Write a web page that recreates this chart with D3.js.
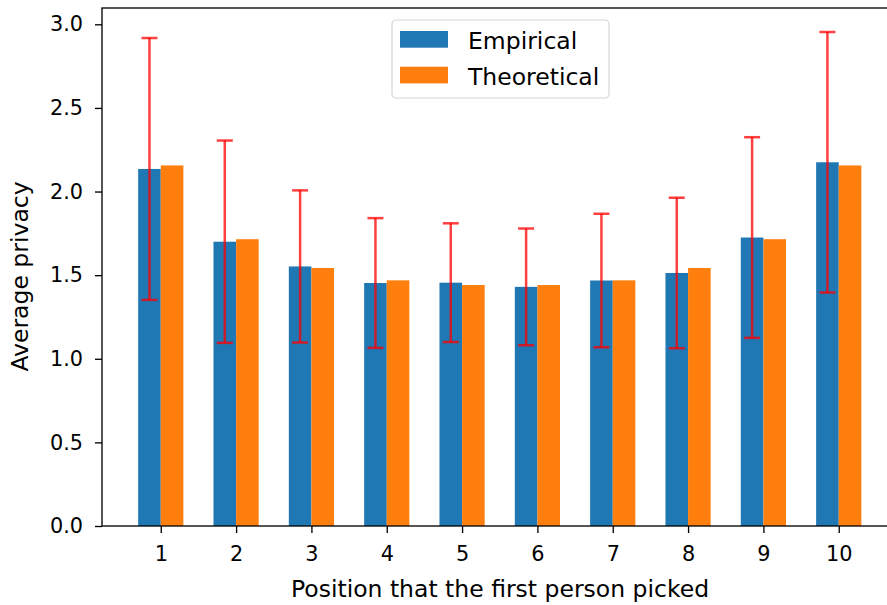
<!DOCTYPE html>
<html>
<head>
<meta charset="utf-8">
<script src="https://cdn.jsdelivr.net/npm/d3@7"></script>
<style>
  html, body { margin: 0; padding: 0; background: #fff; }
  svg { display: block; font-family: "DejaVu Sans", sans-serif; }
</style>
</head>
<body>
<svg id="chart" width="887" height="605"></svg>
<script>
// Positions of the first person picked
const positions = [1, 2, 3, 4, 5, 6, 7, 8, 9, 10];
// Measured average privacy and its spread (error bar half-length)
const empirical = [2.135, 1.700, 1.552, 1.453, 1.455, 1.430, 1.468, 1.513, 1.725, 2.175];
const empiricalErr = [0.783, 0.605, 0.455, 0.388, 0.355, 0.349, 0.399, 0.450, 0.600, 0.779];
// Model prediction
const theoretical = [2.156, 1.715, 1.543, 1.469, 1.441, 1.441, 1.469, 1.543, 1.715, 2.156];
const yTicks = [0.0, 0.5, 1.0, 1.5, 2.0, 2.5, 3.0];
const seriesNames = ["Empirical", "Theoretical"];
const colors = ["#1f77b4", "#ff7f0e"];

const barWidth = 0.3;
const plotLeft = 102, plotTop = 8, plotBottom = 526;
const unit = 75.33;
const xDomain = [0.22, 10.78];
const plotRight = plotLeft + (xDomain[1] - xDomain[0]) * unit;

const svg = d3.select("#chart");
const x = d3.scaleLinear().domain(xDomain).range([plotLeft, plotRight]);
const y = d3.scaleLinear().domain([0, 3.0975]).range([plotBottom, plotTop]);

// Bars
const g = svg.append("g");
g.selectAll("rect.emp").data(positions).join("rect")
  .attr("class", "emp")
  .attr("x", (d) => x(d - barWidth))
  .attr("width", x(barWidth) - x(0))
  .attr("y", (d, i) => y(empirical[i]))
  .attr("height", (d, i) => y(0) - y(empirical[i]))
  .attr("fill", colors[0]);
g.selectAll("rect.theo").data(positions).join("rect")
  .attr("class", "theo")
  .attr("x", (d) => x(d))
  .attr("width", x(barWidth) - x(0))
  .attr("y", (d, i) => y(theoretical[i]))
  .attr("height", (d, i) => y(0) - y(theoretical[i]))
  .attr("fill", colors[1]);

// Error bars on empirical bars
const errColor = "rgba(255,0,0,0.75)";
const eb = svg.append("g");
positions.forEach((d, i) => {
  const cx = x(d - barWidth / 2);
  const lo = y(empirical[i] - empiricalErr[i]);
  const hi = y(empirical[i] + empiricalErr[i]);
  eb.append("line").attr("x1", cx).attr("x2", cx).attr("y1", lo).attr("y2", hi)
    .attr("stroke", errColor).attr("stroke-width", 2.5);
  [lo, hi].forEach((yy) => {
    eb.append("line").attr("x1", cx - 8).attr("x2", cx + 8).attr("y1", yy).attr("y2", yy)
      .attr("stroke", errColor).attr("stroke-width", 2.5);
  });
});

// Axes
const tickFs = "20.8px";
const labelFs = "23.5px";
const yAxis = d3.axisLeft(y).tickValues(yTicks).tickFormat(d3.format(".1f")).tickSize(7).tickPadding(12);
const yg = svg.append("g").attr("transform", `translate(${plotLeft},0)`).call(yAxis);
const xAxis = d3.axisBottom(x).tickValues(positions).tickFormat(d3.format("d")).tickSize(7).tickPadding(13);
const xg = svg.append("g").attr("transform", `translate(0,${plotBottom})`).call(xAxis);
[yg, xg].forEach((a) => {
  a.select(".domain").remove();
  a.selectAll(".tick line").attr("stroke", "#000").attr("stroke-width", 1.33);
  a.selectAll(".tick text").attr("fill", "#000").style("font-size", tickFs).style("font-family", "DejaVu Sans");
});

// Frame
svg.append("rect").attr("x", plotLeft).attr("y", plotTop)
  .attr("width", plotRight - plotLeft).attr("height", plotBottom - plotTop)
  .attr("fill", "none").attr("stroke", "#000").attr("stroke-width", 1.33);

// Axis titles
svg.append("text").attr("x", 500).attr("y", 596.5)
  .attr("text-anchor", "middle").style("font-size", labelFs).attr("fill", "#000")
  .text("Position that the first person picked");
svg.append("text").attr("transform", "translate(28,276.5) rotate(-90)")
  .attr("text-anchor", "middle").style("font-size", labelFs).attr("fill", "#000")
  .text("Average privacy");

// Legend
const lg = svg.append("g").attr("transform", "translate(392,20)");
lg.append("rect").attr("width", 217).attr("height", 78).attr("rx", 4)
  .attr("fill", "rgba(255,255,255,0.8)").attr("stroke", "#d5d5d5").attr("stroke-width", 1.2);
seriesNames.forEach((name, i) => {
  lg.append("rect").attr("x", 8).attr("y", 11 + i * 35.7).attr("width", 48).attr("height", 16.7)
    .attr("fill", colors[i]);
  lg.append("text").attr("x", 76).attr("y", 28.5 + i * 36.5)
    .style("font-size", labelFs).attr("fill", "#000").text(name);
});
</script>
</body>
</html>
